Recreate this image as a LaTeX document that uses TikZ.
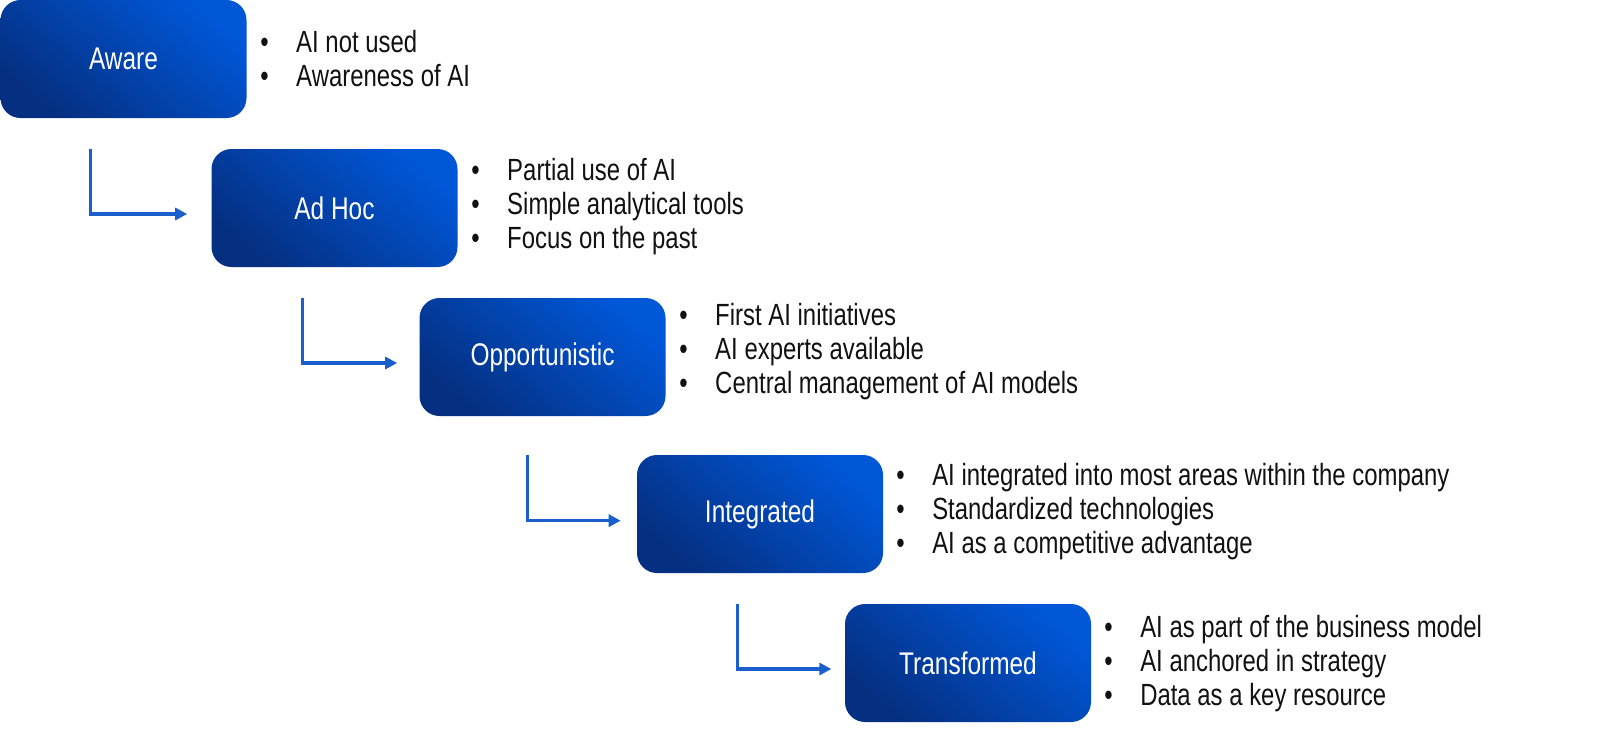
\documentclass[tikz,border=0pt]{standalone}
\usepackage{fontspec}
\setmainfont{Liberation Sans}[FakeStretch=0.78]
\usetikzlibrary{arrows.meta,calc}
\definecolor{boxdark}{HTML}{052F80}
\definecolor{boxlight}{HTML}{0057D8}
\definecolor{arrowblue}{HTML}{1A5FCC}
\definecolor{txt}{HTML}{111111}
\newcommand{\bl}{\makebox[27pt][l]{\textbullet}}
\begin{document}
\begin{tikzpicture}[x=0.75pt,y=-0.75pt,
  stagebox/.style={minimum width=184.5pt,minimum height=88.5pt,rounded corners=15pt,
    top color=boxlight,bottom color=boxdark,shading angle=-40,
    text=white,font=\fontsize{23.5}{27}\selectfont,inner sep=0pt},
  itemlist/.style={anchor=west,text=txt,font=\fontsize{23}{25.5}\selectfont,align=left,inner sep=0pt},
  conn/.style={draw=arrowblue,line width=2.5pt,-{Triangle[length=9pt,width=9pt]}}]
\useasboundingbox (0,0) rectangle (1600,751);
\node[stagebox] (aware) at (123.5,59) {Aware};
\node[stagebox] (adhoc) at (334.5,208) {Ad Hoc};
\node[stagebox] (opp) at (542.5,357) {Opportunistic};
\node[stagebox] (integ) at (760,514) {Integrated};
\node[stagebox] (trans) at (968,663) {Transformed};

\node[itemlist] (l1) at (260,59) {\bl AI not used\\\bl Awareness of AI};
\node[itemlist] (l2) at (471,207) {\bl Partial use of AI\\\bl Simple analytical tools\\\bl Focus on the past};
\node[itemlist] (l3) at (679,352) {\bl First AI initiatives\\\bl AI experts available\\\bl Central management of AI models};
\node[itemlist] (l4) at (896,512) {\bl AI integrated into most areas within the company\\\bl Standardized technologies\\\bl AI as a competitive advantage};
\node[itemlist] (l5) at (1104,664) {\bl AI as part of the business model\\\bl AI anchored in strategy\\\bl Data as a key resource};

\draw[conn] ([xshift=67.5pt,yshift=-23pt]aware.south west) |- ([xshift=-18pt,yshift=-4.5pt]adhoc.west);
\draw[conn] ([xshift=68.25pt,yshift=-23pt]adhoc.south west) |- ([xshift=-16.5pt,yshift=-4.5pt]opp.west);
\draw[conn] ([xshift=81pt,yshift=-29pt]opp.south west) |- ([xshift=-12pt,yshift=-5pt]integ.west);
\draw[conn] ([xshift=75.75pt,yshift=-23pt]integ.south west) |- ([xshift=-10pt,yshift=-4.5pt]trans.west);
\end{tikzpicture}
\end{document}
